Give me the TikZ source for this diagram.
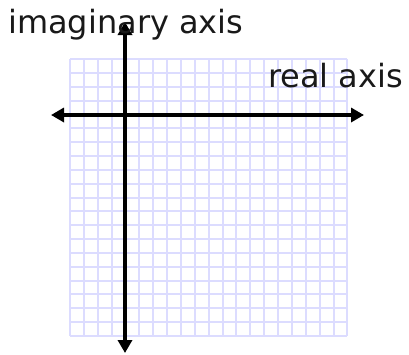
\documentclass[tikz,border=0pt]{standalone}
\usepackage{fontspec}
\setmainfont{DejaVu Sans}
\usetikzlibrary{arrows.meta}
\definecolor{gridcol}{RGB}{220,220,255}
\tikzset{
  axisline/.style={line width=4pt,-{Triangle[width=14pt,length=13pt]}},
  gridline/.style={draw=gridcol,line width=2pt},
  lbl/.style={font=\fontsize{32}{38}\selectfont,inner sep=0pt,anchor=base west,text=black!90}
}
\begin{document}
\begin{tikzpicture}[x=1pt,y=-1pt]
\useasboundingbox (0,0) rectangle (409,354);
\foreach \i in {0,...,20}{
  \draw[gridline] ({70+\i*13.87},59) -- ({70+\i*13.87},336);
  \draw[gridline] (70,{59+\i*13.85}) -- (347.4,{59+\i*13.85});
}
\coordinate (vt) at (125,22);
\coordinate (vb) at (125,353);
\coordinate (hl) at (51,115);
\coordinate (hr) at (364,115);
\coordinate (c) at (125,115);
\draw[axisline] (c) -- (vt);
\draw[axisline] (c) -- (vb);
\draw[axisline] (c) -- (hl);
\draw[axisline] (c) -- (hr);
\node[lbl] (im) at (8,33) {imaginary axis};
\node[lbl] (re) at (268,87) {real axis};
\end{tikzpicture}
\end{document}
